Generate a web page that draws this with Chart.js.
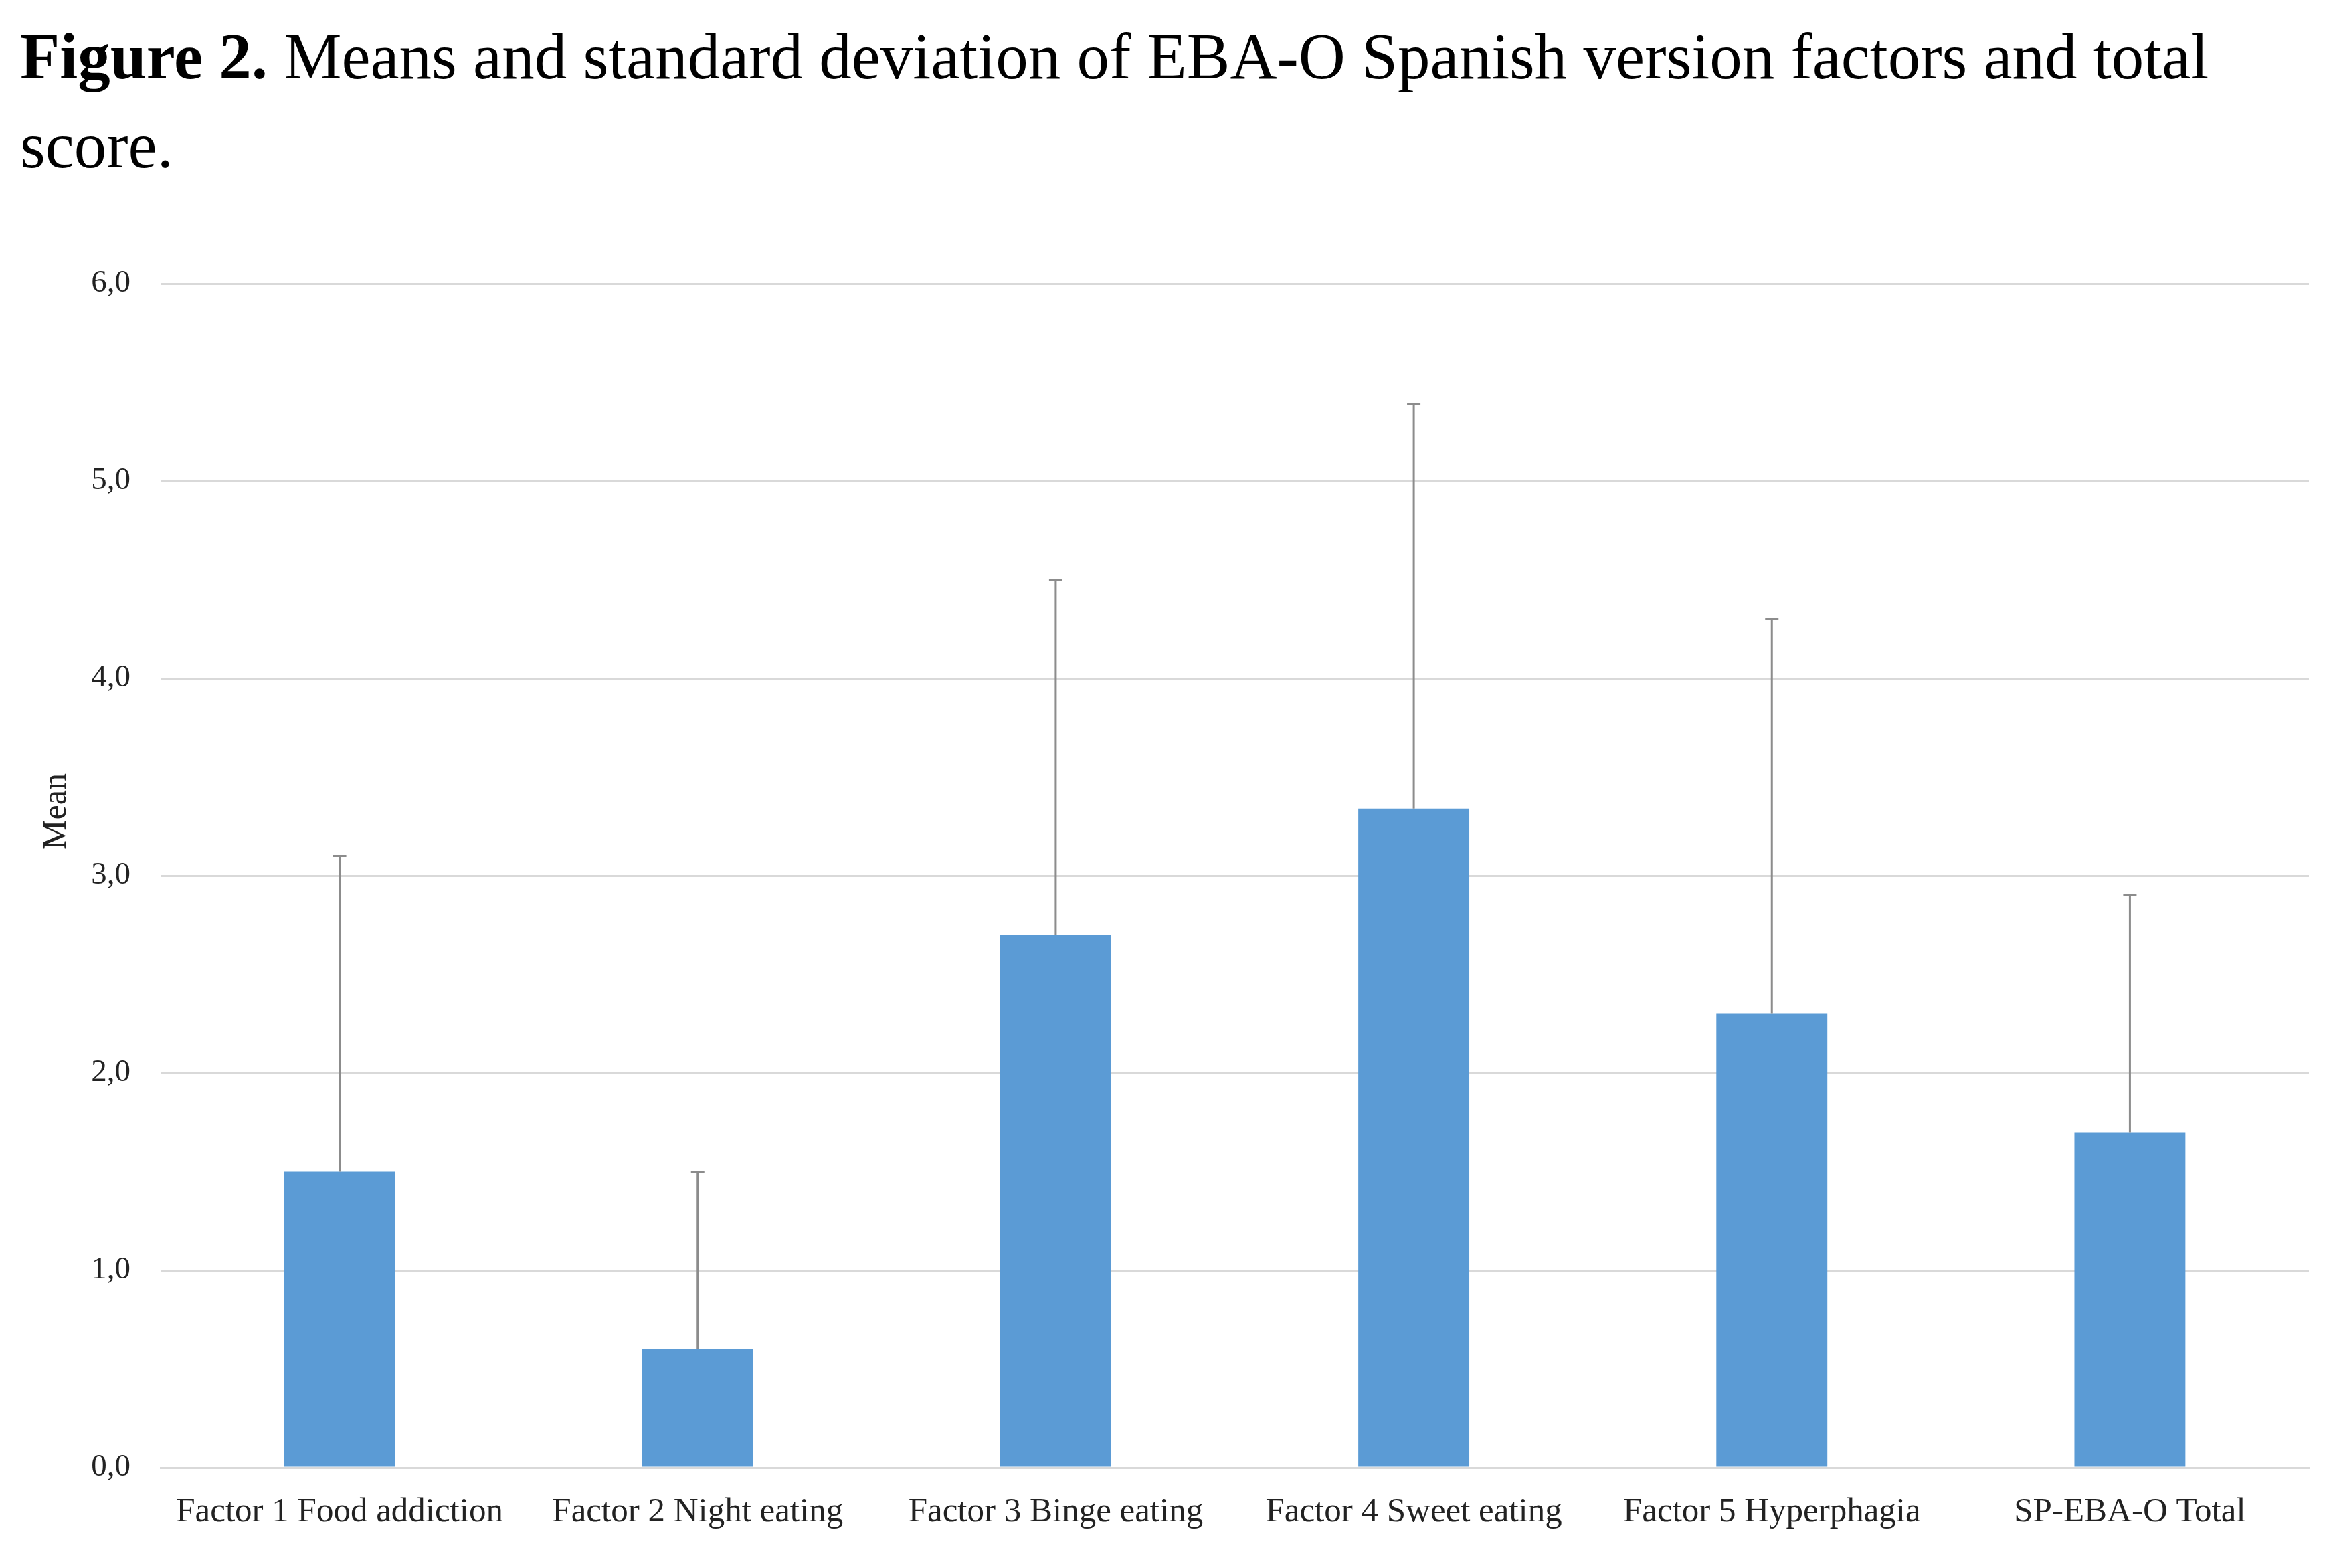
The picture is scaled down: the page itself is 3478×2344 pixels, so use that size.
<!DOCTYPE html>
<html lang="en">
<head>
    <meta charset="UTF-8">
    <title>EBA-O Spanish version factors</title>
    <script src="https://cdn.jsdelivr.net/npm/chart.js"></script>
    <style>
        body { margin: 0; background: #fff; }
        #wrap { position: relative; width: 3478px; height: 2344px; }
        #title {
            position: absolute; left: 30px; top: 18px;
            font-family: "Liberation Serif", "Times New Roman", serif;
            font-size: 97px; line-height: 133px; color: #000;
            white-space: nowrap;
        }
        canvas { position: absolute; left: 0; top: 0; }
    </style>
</head>
<body>
<div id="wrap">
    <canvas id="myChart" width="3478" height="2344" style="width:3478px;height:2344px"></canvas>
    <div id="title"><b>Figure 2.</b> Means and standard deviation of EBA-O Spanish version factors and total<br>score.</div>
</div>
<script>
    // values
    const categories = ['Factor 1 Food addiction', 'Factor 2 Night eating', 'Factor 3 Binge eating',
        'Factor 4 Sweet eating', 'Factor 5 Hyperphagia', 'SP-EBA-O Total'];
    const means = [1.5, 0.6, 2.7, 3.34, 2.3, 1.7];
    const sds = [1.6, 0.9, 1.8, 2.05, 2.0, 1.2];
    const yTicks = [0, 1, 2, 3, 4, 5, 6];

    // upper error whiskers, drawn through the y scale
    const errorBars = {
        id: 'errorBars',
        afterDatasetsDraw(chart) {
            const ctx = chart.ctx;
            const y = chart.scales.y;
            const meta = chart.getDatasetMeta(0);
            ctx.save();
            ctx.strokeStyle = '#8c8c8c';
            ctx.lineWidth = 3;
            meta.data.forEach((bar, i) => {
                const top = y.getPixelForValue(means[i] + sds[i]);
                const base = y.getPixelForValue(means[i]);
                ctx.beginPath();
                ctx.moveTo(bar.x, base);
                ctx.lineTo(bar.x, top);
                ctx.moveTo(bar.x - 10, top);
                ctx.lineTo(bar.x + 10, top);
                ctx.stroke();
            });
            ctx.restore();
        }
    };

    // y axis title sits a bit above the middle in the original
    const meanLabel = {
        id: 'meanLabel',
        afterDraw(chart) {
            const ctx = chart.ctx;
            ctx.save();
            ctx.translate(85, 1213);
            ctx.rotate(-Math.PI / 2);
            ctx.font = '50px "Liberation Serif", serif';
            ctx.fillStyle = '#222';
            ctx.textAlign = 'center';
            ctx.textBaseline = 'middle';
            ctx.fillText('Mean', 0, 0);
            ctx.restore();
        }
    };

    const ctx = document.getElementById('myChart').getContext('2d');
    new Chart(ctx, {
        type: 'bar',
        data: {
            labels: categories,
            datasets: [{
                label: 'Mean',
                data: means,
                backgroundColor: '#5b9bd5',
                borderWidth: 0,
                barPercentage: 0.31,
                categoryPercentage: 1
            }]
        },
        options: {
            responsive: false,
            animation: false,
            devicePixelRatio: 1,
            layout: { padding: { top: 424, right: 27, left: 0, bottom: 0 } },
            plugins: {
                legend: { display: false },
                tooltip: { enabled: false }
            },
            scales: {
                x: {
                    grid: { display: false, drawTicks: false },
                    border: { color: '#d9d9d9', width: 3 },
                    ticks: {
                        font: { family: '"Liberation Serif", serif', size: 51 },
                        color: '#222',
                        padding: 36,
                        maxRotation: 0,
                        autoSkip: false
                    },
                    afterFit(scale) { scale.height = 150; }
                },
                y: {
                    min: 0,
                    max: 6,
                    afterBuildTicks(scale) { scale.ticks = yTicks.map(v => ({ value: v })); },
                    grid: { color: '#d9d9d9', lineWidth: 3, drawTicks: false },
                    border: { display: false },
                    ticks: {
                        font: { family: '"Liberation Serif", serif', size: 47 },
                        color: '#222',
                        padding: 45,
                        callback: v => v.toFixed(1).replace('.', ',')
                    },
                    afterFit(scale) { scale.width = 240; }
                }
            }
        },
        plugins: [errorBars, meanLabel]
    });
</script>
</body>
</html>
